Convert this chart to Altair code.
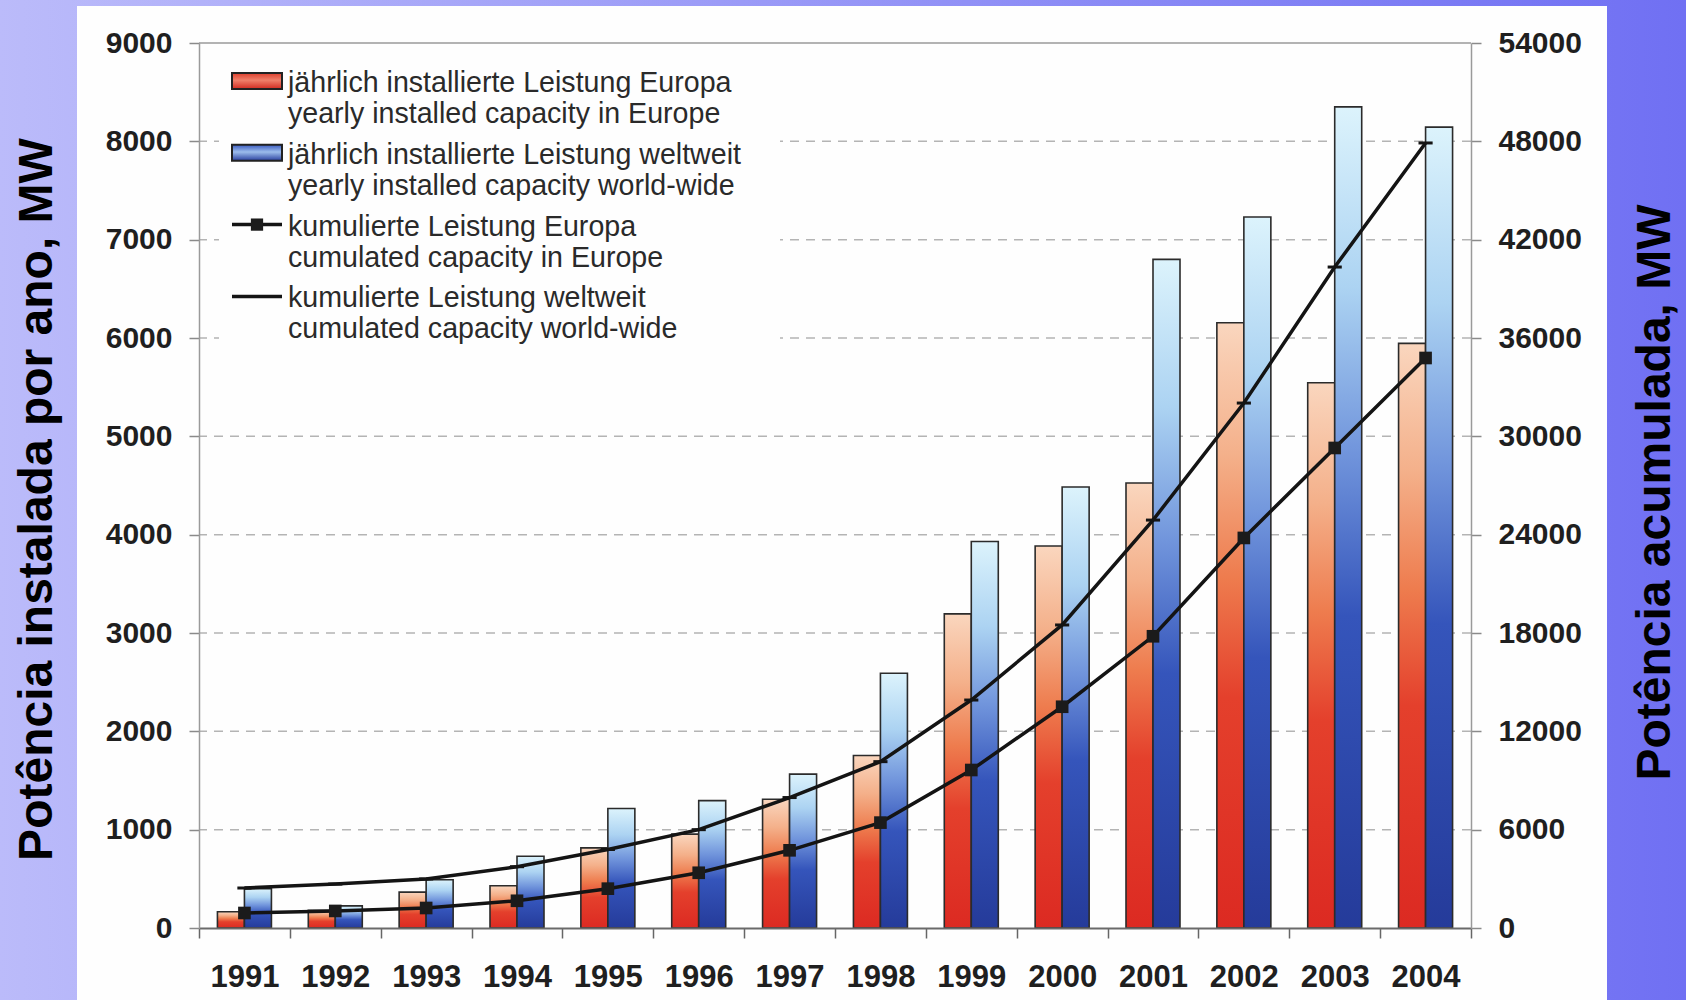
import altair as alt
import pandas as pd

# ---- data -----------------------------------------------------------------
years = [str(y) for y in range(1991, 2005)]

# yearly installed capacity, MW (left axis)
europe_yearly = [165, 180, 365, 430, 815, 955, 1310, 1755, 3195, 3885, 4525, 6155, 5545, 5945]
world_yearly = [400, 225, 490, 730, 1215, 1295, 1565, 2590, 3930, 4485, 6800, 7230, 8350, 8145]

# cumulated capacity, MW (right axis)
europe_cumulative = [915, 1040, 1220, 1660, 2400, 3370, 4740, 6430, 9640, 13500, 17800, 23800, 29290, 34780]
world_cumulative = [2440, 2680, 2990, 3740, 4790, 6000, 7960, 10150, 13910, 18490, 24890, 32030, 40330, 47900]

left_ticks = list(range(0, 9001, 1000))
right_ticks = list(range(0, 54001, 6000))

legend_texts = [
    ["jährlich installierte Leistung Europa", "yearly installed capacity in Europe"],
    ["jährlich installierte Leistung weltweit", "yearly installed capacity world-wide"],
    ["kumulierte Leistung Europa", "cumulated capacity in Europe"],
    ["kumulierte Leistung weltweit", "cumulated capacity world-wide"],
]

left_title = "Potência instalada por ano, MW"
right_title = "Potência acumulada, MW"

# ---- layout ---------------------------------------------------------------
CANVAS_W, CANVAS_H = 1686, 1000
PAD_L, PAD_T, PAD_R, PAD_B = 199, 43, 215, 72
W = CANVAS_W - PAD_L - PAD_R
H = CANVAS_H - PAD_T - PAD_B
FONT = "Liberation Sans"
BAR_W = 27

eu_df = pd.DataFrame({"year": years, "value": europe_yearly})
ww_df = pd.DataFrame({"year": years, "value": world_yearly})
eu_cum_df = pd.DataFrame({"year": years, "value": europe_cumulative})
ww_cum_df = pd.DataFrame({"year": years, "value": world_cumulative})
grid_df = pd.DataFrame({"value": left_ticks[1:-1]})
top_df = pd.DataFrame({"value": left_ticks[-1:]})
one = pd.DataFrame({"k": [0]})


def grad(stops, x1=0, y1=1, x2=0, y2=0):
    return alt.LinearGradient(
        gradient="linear",
        stops=[alt.GradientStop(offset=o, color=c) for o, c in stops],
        x1=x1, y1=y1, x2=x2, y2=y2,
    )


EU_FILL = grad([(0, "#dc2a22"), (0.38, "#e4402c"), (0.58, "#ee7c4e"),
                (0.78, "#f4b08a"), (1, "#fad6be")])
WW_FILL = grad([(0, "#253b9a"), (0.38, "#3555bb"), (0.58, "#7195dc"),
                (0.78, "#acd3f2"), (1, "#dcf3fc")])
EU_SWATCH = grad([(0, "#d22a20"), (0.55, "#f0806a"), (1, "#dc3e2c")])
WW_SWATCH = grad([(0, "#283e9e"), (0.55, "#9cbceb"), (1, "#3a5bc0")])
BG_FILL = grad([(0, "#bbbbfa"), (1, "#7070f3")], x1=0, y1=0, x2=1, y2=0)

x_enc = alt.X(
    "year:O",
    scale=alt.Scale(paddingInner=0, paddingOuter=0),
    axis=alt.Axis(
        title=None, labelAngle=0, labelFont=FONT, labelFontSize=31,
        labelFontWeight="bold", labelColor="#1f1f1f", labelPadding=24,
        tickBand="extent", tickSize=10, tickWidth=1.5, tickColor="#666666",
        domainColor="#6a6a6a", domainWidth=2, zindex=1,
    ),
)


def y_axis(orient, values, title, tx, ty):
    return alt.Axis(
        orient=orient, values=values, format="d", grid=False,
        domainColor="#9a9a9a", domainWidth=1.5,
        tickColor="#8a8a8a", tickSize=10, tickWidth=1.5,
        labelFont=FONT, labelFontSize=30, labelFontWeight="bold",
        labelColor="#1f1f1f", labelPadding=17,
        title=title, titleFont=FONT, titleFontSize=48, titleFontWeight="bold",
        titleColor="#000000", titleAngle=270, titleX=tx, titleY=ty,
        titleAlign="center", titleBaseline="middle", zindex=1,
    )


y_left = alt.Y("value:Q", scale=alt.Scale(domain=[0, 9000], nice=False),
               axis=y_axis("left", left_ticks, left_title, -162, 456))
y_right = alt.Y("value:Q", scale=alt.Scale(domain=[0, 54000], nice=False),
                axis=y_axis("right", right_ticks, right_title, 184, 449))

# ---- slide background and white chart panel --------------------------------
background = alt.Chart(one).mark_rect(fill=BG_FILL).encode(
    x=alt.value(-PAD_L), x2=alt.value(CANVAS_W - PAD_L),
    y=alt.value(-PAD_T), y2=alt.value(CANVAS_H - PAD_T),
)
panel = alt.Chart(one).mark_rect(fill="#fefefe").encode(
    x=alt.value(77 - PAD_L), x2=alt.value(1607 - PAD_L),
    y=alt.value(6 - PAD_T), y2=alt.value(CANVAS_H - PAD_T),
)

# ---- yearly bars (left axis) -------------------------------------------------
grid = alt.Chart(grid_df).mark_rule(
    color="#b4b4b4", strokeWidth=1.5, strokeDash=[9, 7]
).encode(y=y_left)
top_line = alt.Chart(top_df).mark_rule(color="#9a9a9a", strokeWidth=1.5).encode(y=y_left)

bars_eu = alt.Chart(eu_df).mark_bar(
    fill=EU_FILL, stroke="#2b2b2b", strokeWidth=1.6, width=BAR_W, xOffset=-BAR_W / 2
).encode(x=x_enc, y=y_left)
bars_ww = alt.Chart(ww_df).mark_bar(
    fill=WW_FILL, stroke="#2b2b2b", strokeWidth=1.6, width=BAR_W, xOffset=BAR_W / 2
).encode(x=x_enc, y=y_left)

left_layer = alt.layer(grid, top_line, bars_eu, bars_ww)

# ---- cumulated lines (right axis) -------------------------------------------
line_eu = alt.Chart(eu_cum_df).mark_line(color="#141414", strokeWidth=3.5).encode(x=x_enc, y=y_right)
pts_eu = alt.Chart(eu_cum_df).mark_point(
    shape="square", filled=True, size=160, color="#1b1b1b", opacity=1
).encode(x=x_enc, y=y_right)
line_ww = alt.Chart(ww_cum_df).mark_line(color="#141414", strokeWidth=3.5).encode(x=x_enc, y=y_right)
pts_ww = alt.Chart(ww_cum_df).mark_point(
    shape="stroke", size=200, strokeWidth=3, color="#141414", opacity=1
).encode(x=x_enc, y=y_right)

right_layer = alt.layer(line_eu, pts_eu, line_ww, pts_ww)

# ---- legend (drawn inside the plot, top left) -------------------------------
LX0, LX1 = 33, 83          # symbol extent
TX = 89                    # text start
ROW = 71.8
legend_layers = [
    alt.Chart(one).mark_rect(fill="#fefefe").encode(
        x=alt.value(20), x2=alt.value(581), y=alt.value(9), y2=alt.value(312)
    )
]
for i, (l1, l2) in enumerate(legend_texts):
    cy = 38 + ROW * i
    if i < 2:
        legend_layers.append(
            alt.Chart(one).mark_rect(
                fill=EU_SWATCH if i == 0 else WW_SWATCH, stroke="#222222", strokeWidth=2
            ).encode(x=alt.value(LX0), x2=alt.value(LX1),
                     y=alt.value(cy - 8), y2=alt.value(cy + 8))
        )
    else:
        legend_layers.append(
            alt.Chart(one).mark_rule(color="#141414", strokeWidth=3.5).encode(
                x=alt.value(LX0), x2=alt.value(LX1), y=alt.value(cy)
            )
        )
        if i == 2:
            legend_layers.append(
                alt.Chart(one).mark_point(
                    shape="square", filled=True, size=150, color="#1b1b1b", opacity=1
                ).encode(x=alt.value((LX0 + LX1) / 2), y=alt.value(cy))
            )
    for j, txt in enumerate((l1, l2)):
        legend_layers.append(
            alt.Chart(one).mark_text(
                align="left", baseline="middle", font=FONT, fontSize=28.6, color="#2a2a2a"
            ).encode(x=alt.value(TX), y=alt.value(cy + 2 + 31 * j), text=alt.value(txt))
        )

chart = (
    alt.layer(background, panel, left_layer, right_layer, *legend_layers)
    .resolve_scale(y="independent")
    .properties(
        width=W, height=H,
        padding={"left": PAD_L, "top": PAD_T, "right": PAD_R, "bottom": PAD_B},
        autosize=alt.AutoSizeParams(type="none"),
        background="#b9b9f9",
    )
    .configure_view(stroke=None)
)

chart.save("out.html", embed_options={"renderer": "svg", "actions": False})
